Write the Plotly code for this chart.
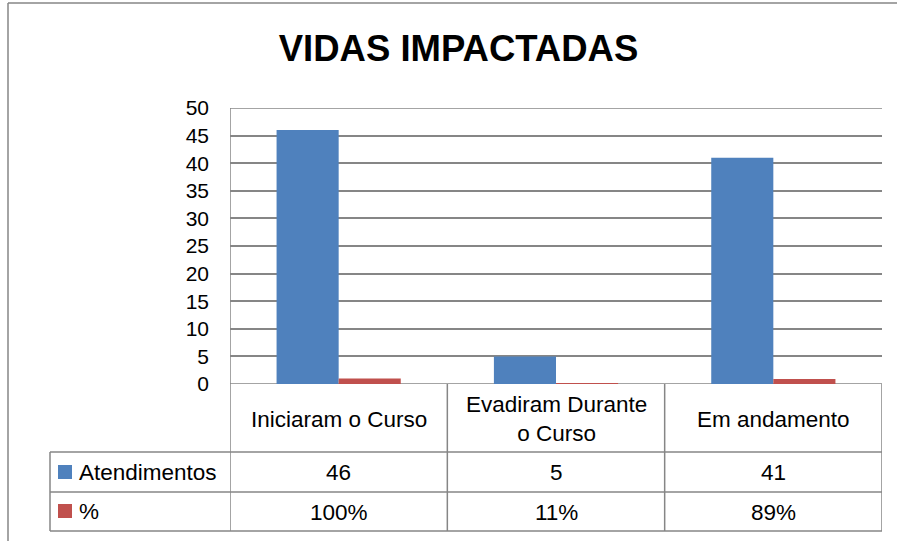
import plotly.graph_objects as go

title = "VIDAS IMPACTADAS"
categories = ["Iniciaram o Curso", "Evadiram Durante<br>o Curso", "Em andamento"]
series_names = ["Atendimentos", "%"]
atendimentos = [46, 5, 41]
percentual = [1.00, 0.11, 0.89]
y_ticks = [0, 5, 10, 15, 20, 25, 30, 35, 40, 45, 50]

BLUE = "#4F81BD"
RED = "#C0504D"
GRID = "#868686"
FONT = "Liberation Sans, Arial, sans-serif"

W, H = 897, 541
L, R, T, B = 230, 15, 108, 157
pw, ph = W - L - R, H - T - B


def px_y(py):
    return (H - B - py) / ph


def px_x(px):
    return (px - L) / pw


fig = go.Figure()
fig.add_trace(go.Bar(x=list(range(len(categories))), y=atendimentos, name=series_names[0],
                     marker=dict(color=BLUE, line=dict(width=0))))
fig.add_trace(go.Bar(x=list(range(len(categories))), y=percentual, name=series_names[1],
                     marker=dict(color=RED, line=dict(width=0))))

shapes = []
line = dict(color=GRID, width=1.5)
# outer chart border
shapes.append(dict(type="line", xref="paper", yref="paper", x0=px_x(8), x1=px_x(8), y0=px_y(3), y1=px_y(560), line=line))
shapes.append(dict(type="line", xref="paper", yref="paper", x0=px_x(8), x1=px_x(900), y0=px_y(3), y1=px_y(3), line=line))
# gridlines at the axis range ends (plotly hides them)
for yv in (y_ticks[0], y_ticks[-1]):
    shapes.append(dict(type="line", xref="paper", yref="y", x0=0, x1=1, y0=yv, y1=yv, line=line, layer="below"))
# table
row_lines = [452, 492, 531]
for ry in row_lines:
    shapes.append(dict(type="line", xref="paper", yref="paper", x0=px_x(50), x1=1, y0=px_y(ry), y1=px_y(ry), line=line))
for k in range(len(categories) + 1):
    xv = k - 0.5
    shapes.append(dict(type="line", xref="x", yref="paper", x0=xv, x1=xv, y0=(1 if k == 0 else 0), y1=px_y(531), line=line))
shapes.append(dict(type="line", xref="paper", yref="paper", x0=px_x(50), x1=px_x(50), y0=px_y(452), y1=px_y(531), line=line))

annotations = []
tf = dict(family=FONT, size=22.5, color="#000000")
for i, c in enumerate(categories):
    annotations.append(dict(x=i, y=px_y(419), xref="x", yref="paper", text=c, showarrow=False, font=tf,
                            align="center", xanchor="center", yanchor="middle"))
    annotations.append(dict(x=i, y=px_y(472), xref="x", yref="paper", text=str(atendimentos[i]), showarrow=False,
                            font=tf, xanchor="center", yanchor="middle"))
    annotations.append(dict(x=i, y=px_y(512), xref="x", yref="paper", text=f"{round(percentual[i]*100)}%",
                            showarrow=False, font=tf, xanchor="center", yanchor="middle"))
# legend keys in table
for name, color, cy in [(series_names[0], BLUE, 472), (series_names[1], RED, 511)]:
    shapes.append(dict(type="rect", xref="paper", yref="paper", x0=px_x(58), x1=px_x(72), y0=px_y(cy - 7),
                       y1=px_y(cy + 7), fillcolor=color, line=dict(width=0)))
    annotations.append(dict(x=px_x(77), y=px_y(cy), xref="paper", yref="paper", text=name, showarrow=False,
                            xanchor="left", yanchor="middle", font=tf))

fig.update_layout(
    width=W, height=H,
    margin=dict(l=L, r=R, t=T, b=B, autoexpand=False),
    paper_bgcolor="white", plot_bgcolor="white",
    title=dict(text=f"<b>{title}</b>", x=458.5 / W, xanchor="center", xref="container",
               y=(H - 48) / H, yanchor="middle",
               font=dict(family=FONT, size=36.5, color="#000000")),
    showlegend=False,
    barmode="group", bargap=0.4286, bargroupgap=0,
    shapes=shapes, annotations=annotations,
    font=dict(family=FONT),
)
fig.update_xaxes(range=[-0.5, 2.5], showticklabels=False, showgrid=False, zeroline=False, showline=False, ticks="")
fig.update_yaxes(range=[0, 50], tickvals=y_ticks, showgrid=True, gridcolor=GRID, gridwidth=1.5,
                 zeroline=False, showline=False, ticks="", ticklabelstandoff=20,
                 tickfont=dict(family=FONT, size=21, color="#000000"))

fig.write_html("out.html", config={"displayModeBar": False},
               post_script="document.body.style.margin='0';document.body.style.overflow='hidden';")
